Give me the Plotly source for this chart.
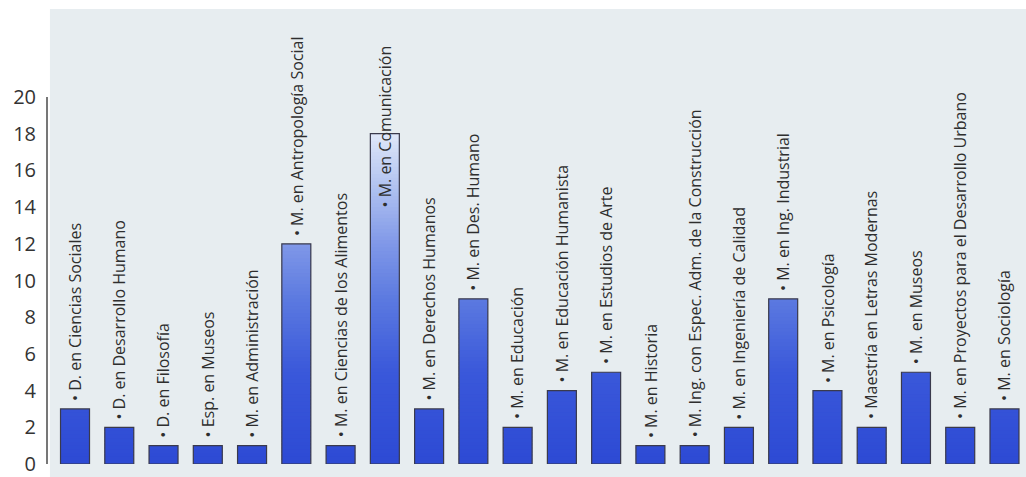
import numpy as np
import plotly.graph_objects as go

categories = [
    "D. en Ciencias Sociales",
    "D. en Desarrollo Humano",
    "D. en Filosofía",
    "Esp. en Museos",
    "M. en Administración",
    "M. en Antropología Social",
    "M. en Ciencias de los Alimentos",
    "M. en Comunicación",
    "M. en Derechos Humanos",
    "M. en Des. Humano",
    "M. en Educación",
    "M. en Educación Humanista",
    "M. en Estudios de Arte",
    "M. en Historia",
    "M. Ing. con Espec. Adm. de la Construcción",
    "M. en Ingeniería de Calidad",
    "M. en Ing. Industrial",
    "M. en Psicología",
    "Maestría en Letras Modernas",
    "M. en Museos",
    "M. en Proyectos para el Desarrollo Urbano",
    "M. en Sociología",
]
values = [3, 2, 1, 1, 1, 12, 1, 18, 3, 9, 2, 4, 5, 1, 1, 2, 9, 4, 2, 5, 2, 3]
y_ticks = [0, 2, 4, 6, 8, 10, 12, 14, 16, 18, 20]

# style: label vertical shift (px) overrides
label_yshift = {"M. en Comunicación": -76}

# gradient colour stops (value level -> rgb)
stops_v = [0, 5, 9, 12, 15, 18.5]
stops_c = [(45, 74, 212), (58, 88, 218), (92, 122, 224), (128, 152, 232), (175, 193, 240), (232, 238, 250)]

vals = np.array(values, dtype=float)
fig = go.Figure()

step = 0.2
nseg = int(np.ceil(vals.max() / step))
for k in range(nseg):
    lo = k * step
    mid = lo + step / 2
    rgb = [int(round(np.interp(mid, stops_v, [c[i] for c in stops_c]))) for i in range(3)]
    seg = np.clip(vals - lo, 0, step + 0.15)
    fig.add_trace(go.Bar(
        x=categories, y=seg, base=[lo] * len(categories),
        marker=dict(color=f"rgb({rgb[0]},{rgb[1]},{rgb[2]})", line=dict(width=0)),
        showlegend=False, hoverinfo="skip",
    ))

fig.add_trace(go.Bar(
    x=categories, y=values,
    marker=dict(color="rgba(0,0,0,0)", line=dict(color="#3a3a4c", width=1.2)),
    showlegend=False,
))

for c, v in zip(categories, values):
    fig.add_annotation(
        x=c, y=v, text="• " + c, textangle=-90,
        xanchor="center", yanchor="bottom", yshift=label_yshift.get(c, 6),
        showarrow=False,
        font=dict(family="Open Sans", size=16, color="#2e2e2e"),
    )

# light panel background
fig.add_shape(type="rect", xref="paper", yref="paper",
              x0=0.003, x1=1.0, y0=-0.05, y1=1.24,
              fillcolor="#e7edf0", line=dict(width=0), layer="below")
# y-axis line
fig.add_shape(type="line", xref="paper", yref="y", x0=0, x1=0, y0=-1, y1=20,
              line=dict(color="#555555", width=1.6), layer="above")

fig.update_layout(
    width=1026, height=477,
    margin=dict(l=47, r=0, t=97, b=13),
    paper_bgcolor="white", plot_bgcolor="rgba(0,0,0,0)",
    barmode="overlay", bargap=0.345,
    font=dict(family="Open Sans", color="#333333"),
)
fig.update_xaxes(range=[-0.633, 21.486], showticklabels=False, showgrid=False,
                 zeroline=False, showline=False, ticks="", automargin=False)
fig.update_yaxes(range=[0, 20], tickvals=y_ticks, showgrid=False, zeroline=False,
                 showline=False, ticks="", ticklabelstandoff=10,
                 ticklabeloverflow="allow", automargin=False,
                 tickfont=dict(size=20, color="#333333"))

fig.write_html("out.html", config={"displayModeBar": False},
               post_script="document.body.style.margin='0';document.body.style.overflow='hidden';")
